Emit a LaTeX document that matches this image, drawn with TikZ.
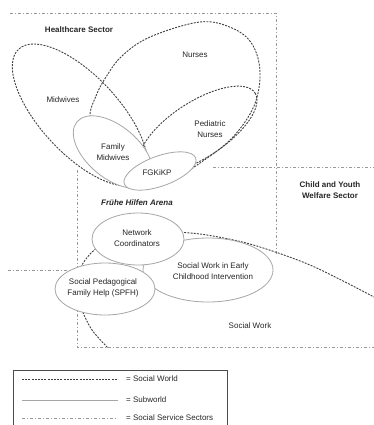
\documentclass[tikz,border=0pt]{standalone}
\usepackage{fontspec}
\setmainfont{Liberation Sans}
\usepackage{tikz}

\tikzset{
    socialworld/.style={draw=black!75, line width=0.9pt, dash pattern=on 2pt off 1.2pt},
    subworld/.style={draw=black!35, line width=0.8pt, fill=white},
    sectorline/.style={draw=black!40, line width=0.8pt, dash pattern=on 3pt off 2pt on 1pt off 2pt},
    lbl/.style={font=\fontsize{8}{10.5}\selectfont, text=black!85, align=center, inner sep=0pt},
    sectorlbl/.style={lbl, font=\fontsize{8}{10.5}\selectfont\bfseries}
}

\begin{document}
\begin{tikzpicture}[x=1pt, y=-1pt]
            \clip (0,0) rectangle (374,425);

            % sectors
            \draw[sectorline] (10,13) -- (276,13) -- (276,256);
            \draw[sectorline] (213,167) -- (374,167);
            \draw[sectorline] (77,170) -- (77,347) -- (374,347);
            \draw[sectorline] (8,270) -- (75,270);

            % social worlds
            \draw[socialworld, rotate around={-47:(80,115)}] (80,115) ellipse (90 and 39);
            \draw[socialworld] plot[smooth cycle, tension=0.6] coordinates {(90,118) (96,96) (106,77) (122,56) (150,37)
                (200,22) (232,28) (252,44) (260,72) (254,106) (232,138) (200,163) (170,181) (142,189) (118,176) (100,150)};
            \draw[socialworld, rotate around={33:(198,130)}] (198,130) ellipse (68 and 28);
            \begin{scope}
                \clip (0,0) rectangle (374,347);
                \draw[socialworld] plot[smooth] coordinates {(112,352) (92,330) (80,305) (77,285) (82,265) (97,248)
                    (125,237) (160,232) (200,234) (250,244) (310,265) (374,297) (400,312)};
            \end{scope}

            % subworlds
            \draw[subworld, rotate around={-40:(113,152)}] (113,152) ellipse (47 and 26);
            \draw[subworld, rotate around={20:(160,171)}] (160,171) ellipse (38 and 15);
            \draw[subworld] (208,270) ellipse (65 and 32);
            \draw[subworld] (138,239) ellipse (46 and 26);
            \draw[subworld] (105,289) ellipse (50 and 26);

            % labels
            \node[sectorlbl] (health) at (79,30) {Healthcare Sector};
            \node[sectorlbl] (youth) at (330,190) {Child and Youth\\Welfare Sector};
            \node[sectorlbl, font=\fontsize{8}{10.5}\selectfont\bfseries\itshape] (arena) at (137,203) {Frühe Hilfen Arena};
            \node[lbl] (nurses) at (195,55) {Nurses};
            \node[lbl] (midwives) at (63,100) {Midwives};
            \node[lbl] (pednurses) at (210,129) {Pediatric\\Nurses};
            \node[lbl] (famwives) at (113,152) {Family\\Midwives};
            \node[lbl] (fgkikp) at (157,173) {FGKiKP};
            \node[lbl] (netcoord) at (137,238) {Network\\Coordinators};
            \node[lbl] (sweci) at (213,271) {Social Work in Early\\Childhood Intervention};
            \node[lbl] (spfh) at (103,288) {Social Pedagogical\\Family Help (SPFH)};
            \node[lbl] (socwork) at (250,326) {Social Work};

            % legend
            \draw[black!70, line width=0.8pt] (13,440) -- (13,370) -- (227,370) -- (227,440);
            \coordinate (l1a) at (22,379);  \coordinate (l1b) at (118,379);
            \coordinate (l2a) at (22,400);  \coordinate (l2b) at (118,400);
            \coordinate (l3a) at (22,418);  \coordinate (l3b) at (118,418);
            \draw[socialworld, line width=0.7pt] (l1a) -- (l1b);
            \draw[subworld] (l2a) -- (l2b);
            \draw[sectorline] (l3a) -- (l3b);
            \node[lbl, anchor=west] (leg1) at (126,379) {= Social World};
            \node[lbl, anchor=west] (leg2) at (126,400) {= Subworld};
            \node[lbl, anchor=west] (leg3) at (126,418) {= Social Service Sectors};
        \end{tikzpicture}
\end{document}
